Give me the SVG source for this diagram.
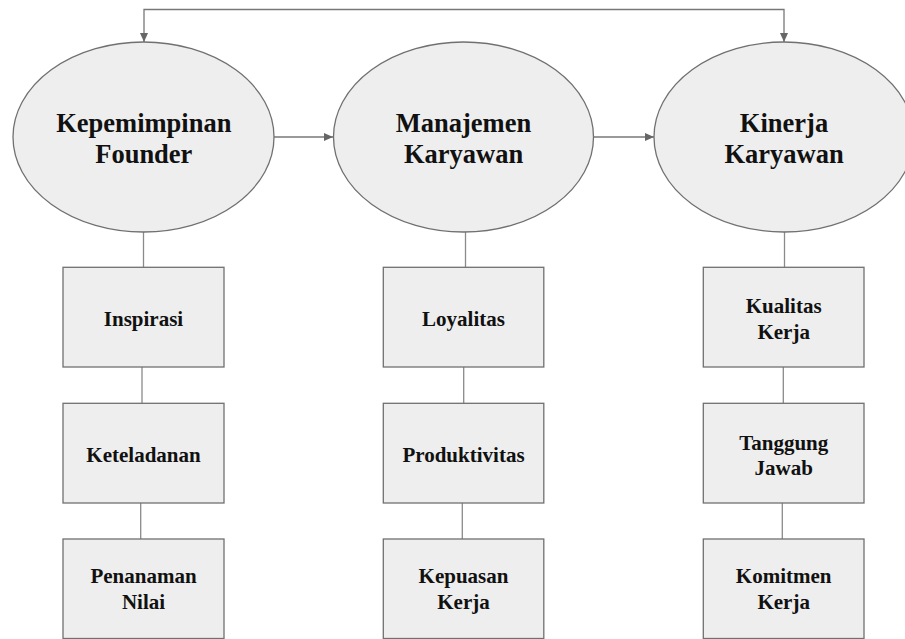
<svg xmlns="http://www.w3.org/2000/svg" width="905" height="639" viewBox="0 0 905 639">
<style>
.node{fill:#eeeeee;stroke:#707070;stroke-width:1.3}
.t{font-family:"Liberation Serif","Times New Roman",serif;font-weight:bold;fill:#111;text-anchor:middle}
.big{font-size:26.5px}
.sm{font-size:21px}
.c{fill:none;stroke:#777;stroke-width:1.3}
.cl{fill:none;stroke:#8a8a8a;stroke-width:1.3}
</style>
<defs>
<marker id="ah" markerWidth="10" markerHeight="8" refX="9" refY="4" orient="auto-start-reverse" markerUnits="userSpaceOnUse">
<path d="M0,0 L9,4 L0,8 Z" fill="#666"/>
</marker>
</defs>
<g id="connectors">
<path class="c" d="M144,42 L144,9.5 L784,9.5 L784,42" marker-start="url(#ah)" marker-end="url(#ah)"/>
<path class="c" d="M274,137 L333,137" marker-end="url(#ah)"/>
<path class="c" d="M593,137 L654,137" marker-end="url(#ah)"/>
<path class="cl" d="M143.5,232 L143.5,267"/>
<path class="cl" d="M142,367 L142,403"/>
<path class="cl" d="M140.7,503 L140.7,539"/>
<path class="cl" d="M465.5,232 L465.5,267"/>
<path class="cl" d="M463.7,367 L463.7,403"/>
<path class="cl" d="M462.3,503 L462.3,539"/>
<path class="cl" d="M784.5,232 L784.5,267"/>
<path class="cl" d="M783.3,367 L783.3,403"/>
<path class="cl" d="M782.3,503 L782.3,539"/>
</g>
<g id="kepemimpinan">
<ellipse class="node" cx="143.5" cy="137" rx="130.5" ry="95"/>
<text class="t big" x="143.8" y="131.7">Kepemimpinan</text>
<text class="t big" x="143.8" y="163.3">Founder</text>
</g>
<g id="manajemen">
<ellipse class="node" cx="463.5" cy="137" rx="130" ry="95"/>
<text class="t big" x="463.5" y="131.7">Manajemen</text>
<text class="t big" x="463.5" y="163.3">Karyawan</text>
</g>
<g id="kinerja">
<ellipse class="node" cx="784" cy="137" rx="130" ry="95"/>
<text class="t big" x="784" y="131.7">Kinerja</text>
<text class="t big" x="784" y="163.3">Karyawan</text>
</g>
<g id="inspirasi">
<rect class="node" x="63" y="267.3" width="161" height="99.7"/>
<text class="t sm" x="143.5" y="325.5">Inspirasi</text>
</g>
<g id="keteladanan">
<rect class="node" x="63" y="403.3" width="161" height="99.7"/>
<text class="t sm" x="143.5" y="461.5">Keteladanan</text>
</g>
<g id="penanaman">
<rect class="node" x="63" y="539" width="161" height="99.5"/>
<text class="t sm" x="143.5" y="583.3">Penanaman</text>
<text class="t sm" x="143.5" y="609.3">Nilai</text>
</g>
<g id="loyalitas">
<rect class="node" x="383.3" y="267.3" width="160.5" height="99.7"/>
<text class="t sm" x="463.5" y="325.5">Loyalitas</text>
</g>
<g id="produktivitas">
<rect class="node" x="383.3" y="403.3" width="160.5" height="99.7"/>
<text class="t sm" x="463.5" y="461.5">Produktivitas</text>
</g>
<g id="kepuasan">
<rect class="node" x="383.3" y="539" width="160.5" height="99.5"/>
<text class="t sm" x="463.5" y="583.3">Kepuasan</text>
<text class="t sm" x="463.5" y="609.3">Kerja</text>
</g>
<g id="kualitas">
<rect class="node" x="703.3" y="267.3" width="160.7" height="99.7"/>
<text class="t sm" x="783.7" y="313.3">Kualitas</text>
<text class="t sm" x="783.7" y="338.8">Kerja</text>
</g>
<g id="tanggung">
<rect class="node" x="703.3" y="403.3" width="160.7" height="99.7"/>
<text class="t sm" x="783.7" y="449.5">Tanggung</text>
<text class="t sm" x="783.7" y="475">Jawab</text>
</g>
<g id="komitmen">
<rect class="node" x="703.3" y="539" width="160.7" height="99.5"/>
<text class="t sm" x="783.7" y="583.3">Komitmen</text>
<text class="t sm" x="783.7" y="609.3">Kerja</text>
</g>
</svg>
